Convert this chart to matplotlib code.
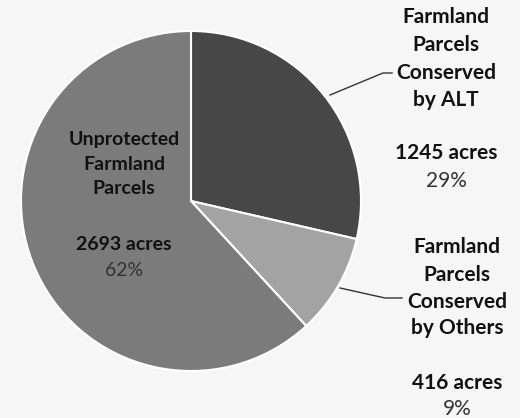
import matplotlib
matplotlib.use("Agg")
import matplotlib.pyplot as plt

categories = ["Farmland Parcels Conserved by ALT",
              "Farmland Parcels Conserved by Others",
              "Unprotected Farmland Parcels"]
acres = [1245, 416, 2693]
percents = ["29%", "9%", "62%"]
colors = ["#474747", "#a3a3a3", "#7b7b7b"]

H = 418
fig = plt.figure(figsize=(5.2, 4.18), dpi=100)
fig.patch.set_facecolor("#f6f6f6")
ax = fig.add_axes([0, 0, 1, 1])
ax.set_facecolor("#f6f6f6")

ax.pie(acres, colors=colors, startangle=90, counterclock=False,
       center=(191, H - 201), radius=170, frame=False,
       wedgeprops=dict(edgecolor="white", linewidth=1.5))
ax.set_xlim(0, 520)
ax.set_ylim(0, H)
ax.set_aspect("equal")
ax.axis("off")

font = "Lato"

def lines(x, ys, texts, size, weight, color="#111111"):
    for y, t in zip(ys, texts):
        ax.text(x, H - y, t, ha="center", va="center", fontsize=size,
                fontweight=weight, family=font, color=color)

# ALT label
lines(446, [17, 45, 73, 100], ["Farmland", "Parcels", "Conserved", "by ALT"], 15, "bold")
lines(446, [153], [f"{acres[0]} acres"], 15, "bold")
lines(446, [181], [percents[0]], 15, "normal", "#333333")

# Others label
lines(457, [247, 275, 302, 328], ["Farmland", "Parcels", "Conserved", "by Others"], 15, "bold")
lines(457, [383], [f"{acres[1]} acres"], 15, "bold")
lines(457, [409], [percents[1]], 15, "normal", "#333333")

# Unprotected label
lines(124, [140, 164, 188], ["Unprotected", "Farmland", "Parcels"], 14, "bold")
lines(124, [245], [f"{acres[2]} acres"], 14, "bold")
lines(124, [270], [percents[2]], 14, "normal", "#333333")

# leader lines
ax.plot([330, 383, 392], [H - 95, H - 73, H - 73], color="#333333", lw=1)
ax.plot([340, 385, 402], [H - 288, H - 298, H - 298], color="#333333", lw=1)

fig.savefig("out.png", dpi=100, facecolor=fig.get_facecolor())
